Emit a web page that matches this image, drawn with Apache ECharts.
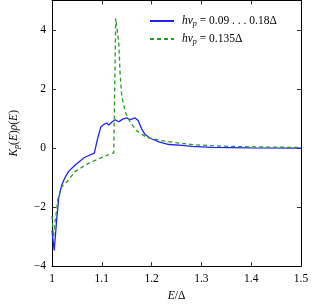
<!DOCTYPE html>
<html><head><meta charset="utf-8">
<script src="https://cdn.jsdelivr.net/npm/echarts@6/dist/echarts.min.js"></script>
<style>html,body{margin:0;padding:0;background:#fff}#c{width:314px;height:307px}</style>
</head><body><div id="c"></div>
<script>
const blueX = [1.0, 1.0045, 1.0095, 1.0135, 1.0196, 1.026, 1.033, 1.046, 1.065, 1.085, 1.092, 1.098, 1.104, 1.110, 1.114, 1.121, 1.127, 1.134, 1.142, 1.150, 1.157, 1.167, 1.173, 1.180, 1.186, 1.196, 1.216, 1.235, 1.261, 1.280, 1.320, 1.400, 1.500];
const blueY = [-2.81, -3.47, -2.4, -1.7, -1.25, -1.0, -0.8, -0.58, -0.32, -0.17, 0.35, 0.72, 0.8, 0.85, 0.78, 0.89, 0.96, 0.89, 0.98, 1.02, 0.96, 1.02, 0.93, 0.65, 0.48, 0.34, 0.2, 0.12, 0.09, 0.06, 0.02, 0.005, 0.0];
const greenX = [1.0, 1.003, 1.007, 1.012, 1.02, 1.033, 1.046, 1.072, 1.098, 1.124, 1.128, 1.134, 1.137, 1.140, 1.147, 1.157, 1.170, 1.189, 1.216, 1.255, 1.280, 1.330, 1.400, 1.500];
const greenY = [-2.3, -3.0, -2.4, -1.7, -1.3, -1.09, -0.8, -0.53, -0.33, -0.16, 4.4, 3.57, 2.44, 1.77, 1.22, 0.87, 0.59, 0.37, 0.26, 0.17, 0.12, 0.07, 0.04, 0.02];
const xTicks = [1, 1.1, 1.2, 1.3, 1.4, 1.5];
const yTicks = [-4, -2, 0, 2, 4];
const seriesNames = ['blue', 'green'];

const F = 'Liberation Serif';
const rich = {
  i: {fontFamily: F, fontStyle: 'italic', fontSize: 11.5, color: '#000'},
  s: {fontFamily: F, fontStyle: 'italic', fontSize: 8, color: '#000', verticalAlign: 'bottom', padding: [6, 0, 0, 0]},
  n: {fontFamily: F, fontSize: 11.5, color: '#000'}
};
const legendText = {
  blue: '{i|hν}{s|p}{n| = 0.09 . . . 0.18Δ}',
  green: '{i|hν}{s|p}{n| = 0.135Δ}'
};
const chart = echarts.init(document.getElementById('c'), null, {renderer: 'canvas'});
const axisCommon = {
  type: 'value',
  axisLine: {show: true, onZero: false, lineStyle: {color: '#000', width: 1}},
  axisTick: {show: true, inside: true, length: 4, lineStyle: {color: '#000', width: 0.8}},
  splitLine: {show: false}
};
chart.setOption({
  animation: false,
  backgroundColor: '#fff',
  grid: {left: 46.7, right: 13, top: 0.5, bottom: 38.7},
  legend: {
    orient: 'vertical', left: 144, top: 10, itemWidth: 24, itemHeight: 10, itemGap: 5,
    data: seriesNames,
    itemStyle: {opacity: 0},
    formatter: n => legendText[n],
    textStyle: {rich: rich, fontFamily: F, fontSize: 11.5, padding: [0, 0, 0, 3]}
  },
  xAxis: [
    Object.assign({}, axisCommon, {
      min: 1, max: 1.5, interval: 0.1, position: 'bottom',
      axisLabel: {show: true, fontFamily: F, fontSize: 11.5, color: '#000', margin: 7,
        formatter: v => { const t = xTicks.find(x => Math.abs(x - v) < 1e-6); return t === undefined ? '' : String(t); }},
      name: '{i|E}{n|/Δ}', nameLocation: 'middle', nameGap: 19,
      nameTextStyle: {rich: rich}
    }),
    Object.assign({}, axisCommon, {
      min: 1, max: 1.5, interval: 0.1, position: 'top', axisLabel: {show: false}
    })
  ],
  yAxis: [
    Object.assign({}, axisCommon, {
      min: -4, max: 5, interval: 2, position: 'left',
      axisLabel: {show: true, fontFamily: F, fontSize: 11.5, color: '#000', margin: 6,
        formatter: v => { const t = yTicks.find(y => Math.abs(y - v) < 1e-6); return t === undefined ? '' : (t < 0 ? '\u2212' + Math.abs(t) : String(t)); }},
      name: '{i|K}{s|p}{n|(}{i|E}{n|)}{i|ρ}{n|(}{i|E}{n|)}', nameLocation: 'middle', nameGap: 31, nameRotate: 90,
      nameTextStyle: {rich: rich}
    }),
    Object.assign({}, axisCommon, {
      min: -4, max: 5, interval: 2, position: 'right', axisLabel: {show: false}
    })
  ],
  series: [
    {name: 'blue', type: 'line', data: blueX.map((x, k) => [x, blueY[k]]), showSymbol: false, symbol: 'none',
     lineStyle: {color: '#2222ff', width: 1.3}, itemStyle: {color: '#2222ff'}, xAxisIndex: 0, yAxisIndex: 0},
    {name: 'green', type: 'line', data: greenX.map((x, k) => [x, greenY[k]]), showSymbol: false, symbol: 'none',
     lineStyle: {color: '#2a9a2a', width: 1.3, type: [4, 3]}, itemStyle: {color: '#2a9a2a'}, xAxisIndex: 0, yAxisIndex: 0}
  ]
});
</script></body></html>
